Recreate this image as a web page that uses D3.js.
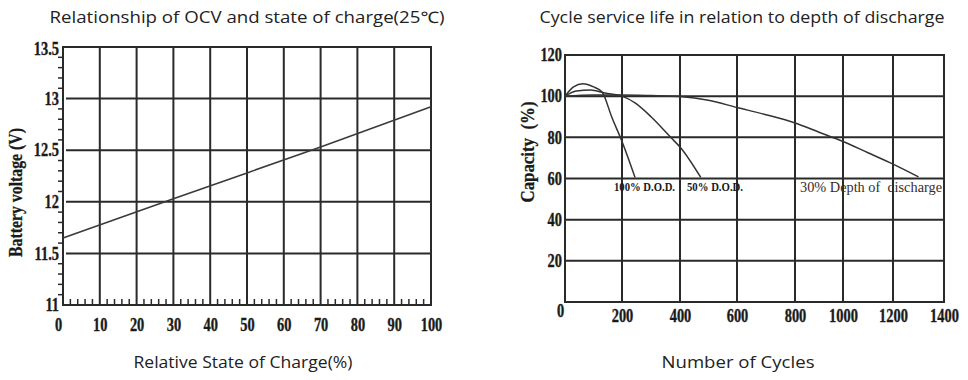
<!DOCTYPE html>
<html>
<head>
<meta charset="utf-8">
<script src="https://cdn.jsdelivr.net/npm/d3@7"></script>
<style>
  body { margin: 0; background: #fff; }
  svg { display: block; }
</style>
</head>
<body>
<div id="chart"></div>
<script>
// left chart: open circuit voltage vs state of charge
const socValues = [0, 30, 50, 70, 100];
const ocvValues = [11.65, 12.03, 12.28, 12.53, 12.92];
const socTicks = [0, 10, 20, 30, 40, 50, 60, 70, 80, 90, 100];
const voltTicks = [11, 11.5, 12, 12.5, 13, 13.5];

// right chart: capacity vs number of cycles
const cycleTicks = [0, 200, 400, 600, 800, 1000, 1200, 1400];
const capacityTicks = [0, 20, 40, 60, 80, 100, 120];
const dod100Cycles = [0, 30, 63, 100, 130, 165, 200, 245];
const dod100Capacity = [100, 104.5, 106, 104.5, 102, 89.5, 78, 60.5];
const dod50Cycles = [0, 40, 90, 140, 200, 245, 300, 368, 405, 473];
const dod50Capacity = [100, 102.5, 103, 101.5, 100, 96.7, 90, 80, 74.5, 60.5];
const dod30Cycles = [0, 100, 200, 300, 400, 500, 600, 700, 800, 900, 1000, 1100, 1200, 1300];
const dod30Capacity = [100, 100.6, 100.6, 100.3, 99.8, 98, 94.5, 91, 87, 82.5, 78, 72.5, 67, 60.8];
const curveLabels = ["100% D.O.D.", "50% D.O.D.", "30% Depth of  discharge"];

const ink = "#2a2a2a";
const serif = "'Liberation Serif', 'Times New Roman', serif";
const sans = "'Open Sans', 'Noto Sans', sans-serif";

const svg = d3.select("#chart")
  .append("svg")
  .attr("width", 968)
  .attr("height", 380);

// squeeze text horizontally, the source uses a narrow font
function condense(sel, k) {
  sel.each(function() {
    const w = this.getComputedTextLength();
    d3.select(this).attr("textLength", w * k).attr("lengthAdjust", "spacingAndGlyphs");
  });
}

function tickText(sel) {
  sel.attr("font-family", serif)
    .attr("font-weight", "bold")
    .attr("font-size", 18)
    .attr("fill", "#1a1a1a")
    .attr("stroke", "#1a1a1a")
    .attr("stroke-width", 0.35);
}

// ---------------- left chart ----------------
const xL = d3.scaleLinear().domain([0, 100]).range([63, 431]);
const yL = d3.scaleLinear().domain([11, 13.5]).range([305, 47]);
const gL = svg.append("g");

// grid
gL.selectAll("line.vgrid")
  .data(socTicks.slice(1, -1))
  .enter().append("line")
  .attr("x1", d => xL(d)).attr("x2", d => xL(d))
  .attr("y1", yL(13.5)).attr("y2", yL(11))
  .attr("stroke", ink).attr("stroke-width", 2);
gL.selectAll("line.hgrid")
  .data(voltTicks.slice(1, -1))
  .enter().append("line")
  .attr("x1", xL(0) + 3).attr("x2", xL(100))
  .attr("y1", d => yL(d)).attr("y2", d => yL(d))
  .attr("stroke", ink).attr("stroke-width", 2);
gL.append("rect")
  .attr("x", xL(0)).attr("y", yL(13.5))
  .attr("width", xL(100) - xL(0)).attr("height", yL(11) - yL(13.5))
  .attr("fill", "none").attr("stroke", ink).attr("stroke-width", 2);

// minor ticks
const voltMinor = d3.range(110, 135).map(v => v / 10).filter(v => Math.round(v * 10) % 5 !== 0);
gL.selectAll("line.ytick")
  .data(voltMinor)
  .enter().append("line")
  .attr("x1", xL(0) - 5).attr("x2", xL(0))
  .attr("y1", d => yL(d)).attr("y2", d => yL(d))
  .attr("stroke", ink).attr("stroke-width", 1.5);
const socMinor = d3.range(2, 100, 2).filter(v => v % 10 !== 0);
gL.selectAll("line.xtick")
  .data(socMinor)
  .enter().append("line")
  .attr("x1", d => xL(d)).attr("x2", d => xL(d))
  .attr("y1", yL(11)).attr("y2", yL(11) - 6)
  .attr("stroke", ink).attr("stroke-width", 1.5);

// axes labels
const axL = gL.append("g")
  .attr("transform", `translate(0,${yL(11)})`)
  .call(d3.axisBottom(xL).tickValues(socTicks).tickSize(0).tickPadding(13));
const ayL = gL.append("g")
  .attr("transform", `translate(${xL(0)},0)`)
  .call(d3.axisLeft(yL).tickValues(voltTicks).tickSize(0).tickPadding(4).tickFormat(d3.format("")));
[axL, ayL].forEach(a => {
  a.select(".domain").remove();
  a.selectAll("text").call(tickText).call(condense, 0.8);
});
axL.selectAll("text").filter(d => d === 0).attr("x", -5);
ayL.select(".tick:last-of-type text").attr("y", 2);

// OCV line
gL.append("path")
  .datum(socValues.map((s, i) => ({x: s, y: ocvValues[i]})))
  .attr("d", d3.line().x(d => xL(d.x)).y(d => yL(d.y)))
  .attr("fill", "none").attr("stroke", "#3a3a3a").attr("stroke-width", 1.6);

// titles
gL.append("text")
  .attr("x", 247).attr("y", 23)
  .attr("text-anchor", "middle")
  .attr("font-family", sans).attr("font-size", 16).attr("fill", "#222")
  .text("Relationship of OCV and state of charge(25\u2103)")
  .attr("textLength", 395).attr("lengthAdjust", "spacingAndGlyphs");
gL.append("text")
  .attr("x", 243).attr("y", 368)
  .attr("text-anchor", "middle")
  .attr("font-family", sans).attr("font-size", 17).attr("fill", "#222")
  .text("Relative State of Charge(%)")
  .attr("textLength", 219).attr("lengthAdjust", "spacingAndGlyphs");
gL.append("text")
  .attr("transform", `translate(22,${(128 + 257) / 2}) rotate(-90)`)
  .attr("text-anchor", "middle")
  .attr("font-family", serif).attr("font-weight", "bold").attr("font-size", 19)
  .attr("fill", "#1a1a1a").attr("stroke", "#1a1a1a").attr("stroke-width", 0.3)
  .text("Battery voltage (V)")
  .attr("textLength", 129).attr("lengthAdjust", "spacingAndGlyphs");

// ---------------- right chart ----------------
// the printed grid is not evenly spaced, so map each tick to its column
const xR = d3.scaleLinear().domain(cycleTicks).range([565, 622, 680, 737, 795, 843, 893, 944]);
const yR = d3.scaleLinear().domain([0, 120]).range([302, 55]);
const gR = svg.append("g");

gR.selectAll("line.vgrid")
  .data(cycleTicks.slice(1, -1))
  .enter().append("line")
  .attr("x1", d => xR(d)).attr("x2", d => xR(d))
  .attr("y1", yR(120)).attr("y2", yR(0))
  .attr("stroke", ink).attr("stroke-width", 2);
gR.selectAll("line.hgrid")
  .data(capacityTicks.slice(1, -1))
  .enter().append("line")
  .attr("x1", xR(0)).attr("x2", xR(1400))
  .attr("y1", d => yR(d)).attr("y2", d => yR(d))
  .attr("stroke", ink).attr("stroke-width", 2);
gR.append("rect")
  .attr("x", xR(0)).attr("y", yR(120))
  .attr("width", xR(1400) - xR(0)).attr("height", yR(0) - yR(120))
  .attr("fill", "none").attr("stroke", ink).attr("stroke-width", 2);

const axR = gR.append("g")
  .attr("transform", `translate(0,${yR(0)})`)
  .call(d3.axisBottom(xR).tickValues(cycleTicks).tickSize(0).tickPadding(7).tickFormat(d3.format("")));
const ayR = gR.append("g")
  .attr("transform", `translate(${xR(0)},0)`)
  .call(d3.axisLeft(yR).tickValues(capacityTicks.slice(1)).tickSize(0).tickPadding(3));
[axR, ayR].forEach(a => {
  a.select(".domain").remove();
  a.selectAll("text").call(tickText).call(condense, 0.8);
});
axR.selectAll("text").filter(d => d === 0).attr("x", -5).attr("y", 2);

// capacity curves
const lineR = d3.line().x(d => xR(d.x)).y(d => yR(d.y)).curve(d3.curveMonotoneX);
const series = [
  [dod30Cycles, dod30Capacity],
  [dod50Cycles, dod50Capacity],
  [dod100Cycles, dod100Capacity]
];
gR.selectAll("path.cap")
  .data(series)
  .enter().append("path")
  .attr("d", s => lineR(s[0].map((c, i) => ({x: c, y: s[1][i]}))))
  .attr("fill", "none").attr("stroke", "#333").attr("stroke-width", 1.5);

// curve labels
gR.append("text")
  .attr("x", 614).attr("y", 191)
  .attr("font-family", serif).attr("font-weight", "bold").attr("font-size", 12).attr("fill", "#1a1a1a")
  .text(curveLabels[0])
  .attr("textLength", 61).attr("lengthAdjust", "spacingAndGlyphs");
gR.append("text")
  .attr("x", 687).attr("y", 191)
  .attr("font-family", serif).attr("font-weight", "bold").attr("font-size", 12).attr("fill", "#1a1a1a")
  .text(curveLabels[1])
  .attr("textLength", 56).attr("lengthAdjust", "spacingAndGlyphs");
gR.append("text")
  .attr("x", 800).attr("y", 192)
  .attr("font-family", serif).attr("font-size", 14).attr("fill", "#3b2c1f")
  .style("white-space", "pre")
  .text(curveLabels[2])
  .attr("textLength", 142).attr("lengthAdjust", "spacingAndGlyphs");

gR.append("text")
  .attr("x", 742).attr("y", 23)
  .attr("text-anchor", "middle")
  .attr("font-family", sans).attr("font-size", 16).attr("fill", "#222")
  .text("Cycle service life in relation to depth of discharge")
  .attr("textLength", 405).attr("lengthAdjust", "spacingAndGlyphs");
gR.append("text")
  .attr("x", 738).attr("y", 368)
  .attr("text-anchor", "middle")
  .attr("font-family", sans).attr("font-size", 17).attr("fill", "#222")
  .text("Number of Cycles")
  .attr("textLength", 153).attr("lengthAdjust", "spacingAndGlyphs");
gR.append("text")
  .attr("transform", `translate(534,152) rotate(-90)`)
  .attr("text-anchor", "middle")
  .attr("font-family", serif).attr("font-weight", "bold").attr("font-size", 19)
  .attr("fill", "#1a1a1a").attr("stroke", "#1a1a1a").attr("stroke-width", 0.3)
  .style("white-space", "pre")
  .text("Capacity  (%)")
  .attr("textLength", 101).attr("lengthAdjust", "spacingAndGlyphs");
</script>
</body>
</html>
